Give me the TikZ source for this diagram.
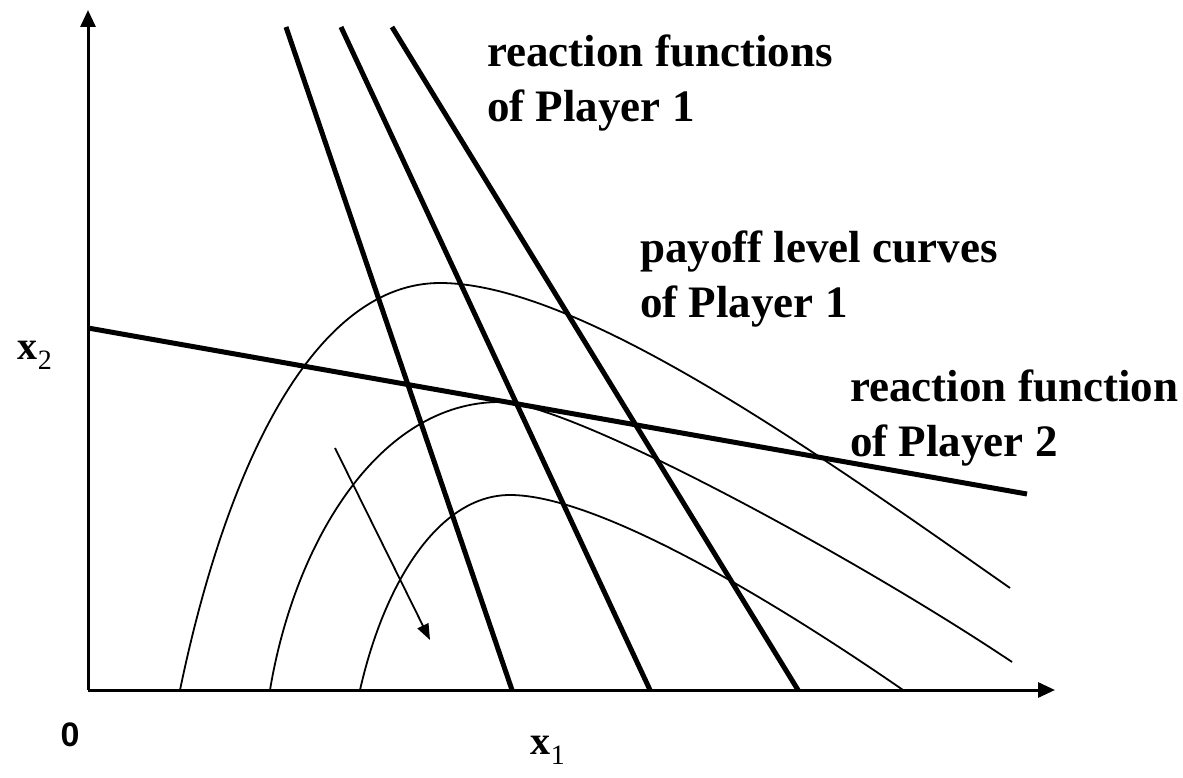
\documentclass[tikz,border=0pt]{standalone}
\usepackage{fontspec}
\setmainfont{Liberation Serif}
\newfontfamily\zerofont{Liberation Sans}
\usetikzlibrary{arrows.meta}
\begin{document}
\begin{tikzpicture}[x=1pt,y=-1pt,
	axis/.style={line width=3pt,-{Triangle[length=17pt,width=15pt]}},
	react/.style={line width=5pt},
	level/.style={line width=1.8pt},
	lbl/.style={font=\fontsize{45}{55}\selectfont\bfseries,align=left,anchor=base west,inner sep=0pt},
	axlbl/.style={font=\fontsize{40}{40}\selectfont,inner sep=0pt}]
	\useasboundingbox (0,0) rectangle (1183,778);
	\path
	(88,690) coordinate (O)
	(1055,690) coordinate (X)
	(88,10) coordinate (Y)
	(286,27) coordinate (A1) (512,690) coordinate (B1)
	(341,27) coordinate (A2) (650,690) coordinate (B2)
	(392,27) coordinate (A3) (798,690) coordinate (B3)
	(88,328) coordinate (P) (1027,494) coordinate (Q)
	(335,448) coordinate (S) (430,640) coordinate (T);
	% axes
	\draw[axis] (O) -- (X);
	\draw[axis] (O) -- (Y);
	% reaction functions
	\foreach \i in {1,2,3} \draw[react] (A\i) -- (B\i);
	\draw[react] (P) -- (Q);
	% level curves
	\draw[level] (180,690) .. controls (230,450) and (320,283) .. (440,283)
		.. controls (580,283) and (820,455) .. (1010,588);
	\draw[level] (270,690) .. controls (295,540) and (380,402) .. (500,402)
		.. controls (570,402) and (860,560) .. (1012,662);
	\draw[level] (360,690) .. controls (385,580) and (440,495) .. (510,495)
		.. controls (600,495) and (780,605) .. (903,690);
	\draw[level,-{Triangle[length=16pt,width=12pt]}] (S) -- (T);
	% labels
	\node[lbl] (r1) at (487,122) {reaction functions\\of Player 1};
	\node[lbl] (lev) at (640,317) {payoff level curves\\of Player 1};
	\node[lbl] (r2) at (850,456) {reaction function\\of Player 2};
	\node[axlbl] (x2) at (35,355) {\textbf{x}\textsubscript{2}};
	\node[axlbl] (x1) at (548,750) {\textbf{x}\textsubscript{1}};
	\node[axlbl,font=\fontsize{34}{40}\selectfont\zerofont\bfseries] (zero) at (70,735) {0};
\end{tikzpicture}
\end{document}
